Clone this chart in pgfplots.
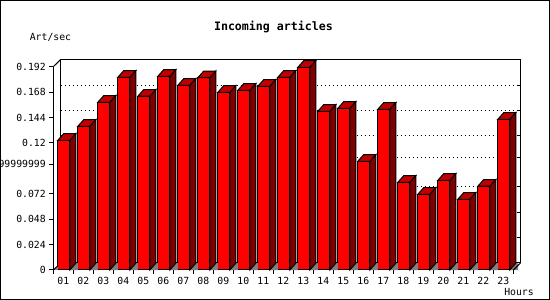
\documentclass[border=0pt]{standalone}
\usepackage{fontspec}
\setmainfont{DejaVu Sans Mono}
\usepackage{pgfplots}
\usepackage{pgfplotstable}
\pgfplotsset{compat=1.18}
\definecolor{barfront}{HTML}{FF0000}
\definecolor{barside}{HTML}{800000}
\definecolor{bartop}{HTML}{C00000}
\definecolor{floorgray}{HTML}{808080}

\pgfplotstableread{
h v
1 0.1225
2 0.1357
3 0.1584
4 0.1820
5 0.1641
6 0.1829
7 0.1744
8 0.1816
9 0.1678
10 0.1697
11 0.1735
12 0.1820
13 0.1914
14 0.1499
15 0.1527
16 0.1027
17 0.1518
18 0.0828
19 0.0715
20 0.0847
21 0.0668
22 0.0791
23 0.1423
}\data

\pgfdeclareplotmark{nothing}{}

\begin{document}
\begin{tikzpicture}[font=\fontsize{9.8}{11}\selectfont]
% back wall
\begin{axis}[name=back, at={(60.5pt,37pt)}, anchor=south west,
  scale only axis, width=460pt, height=203.3pt,
  xmin=0.5, xmax=23.5, ymin=0, ymax=0.192,
  axis line style={line width=1pt, black},
  xtick=\empty,
  ytick={0.024,0.048,0.072,0.1,0.12,0.144,0.168},
  yticklabels={},
  ytick pos=right, tick align=inside, major tick length=3pt,
  tick style={line width=1pt, black},
  ymajorgrids,
  grid style={black, line width=1pt, dash pattern=on 1.5pt off 2.5pt},
]
\end{axis}
% front
\begin{axis}[name=front, at={(53.3pt,30pt)}, anchor=south west,
  scale only axis, width=460pt, height=203.3pt,
  xmin=0.5, xmax=23.5, ymin=0, ymax=0.192, clip=false,
  axis lines=left, axis line style={-, line width=1pt, black},
  xtick={0.5,1.5,...,23.5}, x tick label as interval,
  xticklabels={01,02,03,04,05,06,07,08,09,10,11,12,13,14,15,16,17,18,19,20,21,22,23},
  ytick={0,0.024,0.048,0.072,0.1,0.12,0.144,0.168,0.192},
  yticklabels={0,0.024,0.048,0.072,0.0999999999,0.12,0.144,0.168,0.192},
  tick align=outside, major tick length=4pt,
  tick style={black, line width=1pt},
  ticklabel style={font=\fontsize{9.8}{11}\selectfont},
]
\addplot[ybar, bar width=12pt, bar shift=0.5pt, fill=barfront, draw=black, line width=1pt]
  table[x=h, y=v] {\data};
\addplot[scatter, only marks, mark=nothing,
  point meta=\thisrow{v}, point meta min=0, point meta max=0.192,
  scatter/@pre marker code/.code={%
    \pgfmathsetmacro\hh{\pgfplotspointmetatransformed*0.2033}%
    \fill[floorgray] ({6.5pt},{-\hh pt}) -- ({12.5pt},{-\hh pt+6.7pt}) -- ({14.5pt},{-\hh pt+6.7pt}) -- ({14.5pt},{-\hh pt}) -- cycle;
    \filldraw[fill=barside, draw=black, line width=1pt, line join=miter]
      ({6.5pt},{0pt}) -- ({12.5pt},{6.7pt}) -- ({12.5pt},{-\hh pt+6.7pt}) -- ({6.5pt},{-\hh pt}) -- cycle;
    \filldraw[fill=bartop, draw=black, line width=1pt, line join=miter]
      ({-5.5pt},{0pt}) -- ({6.5pt},{0pt}) -- ({12.5pt},{6.7pt}) -- ({0.5pt},{6.7pt}) -- cycle;
  },
  scatter/@post marker code/.code={},
] table[x=h, y=v] {\data};
\end{axis}
\draw[line width=1pt] (front.north west) -- (back.north west);
\draw[line width=1pt] (front.south east) -- (back.south east);
\fill[floorgray] (53.3pt,30pt) -- (57.8pt,34.2pt) -- (57.8pt,30pt) -- cycle;
\draw[line width=1pt] (53.3pt,30pt) -- (57.8pt,34.2pt);
\node[font=\bfseries\fontsize{11.6}{13}\selectfont] at (273.4pt,273pt) {Incoming articles};
\node at (50.5pt,263pt) {Art/sec};
\node at (519pt,8pt) {Hours};
\draw[line width=1pt] (0.5pt,0.5pt) rectangle (549.5pt,299.5pt);
\pgfresetboundingbox
\path[use as bounding box] (0pt,0pt) rectangle (550pt,300pt);
\end{tikzpicture}
\end{document}
